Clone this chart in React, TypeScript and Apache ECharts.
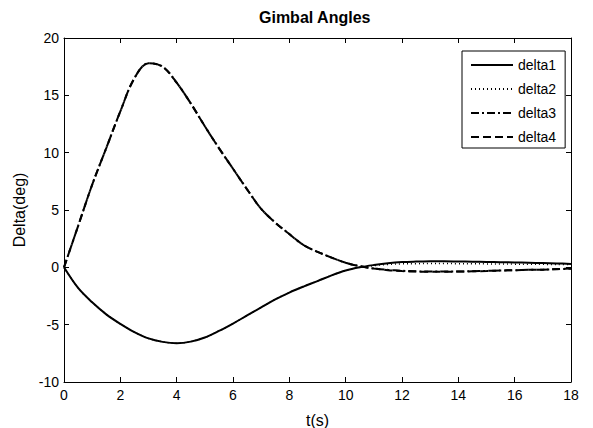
import React, { useEffect, useRef } from "react";
import * as echarts from "echarts";

const timeS = [0, 0.5, 1, 1.5, 2, 2.5, 3, 3.5, 4, 4.5, 5, 5.5, 6, 6.5, 7, 7.5, 8, 8.5, 9, 9.5, 10, 10.5, 11, 11.5, 12, 12.5, 13, 13.5, 14, 14.5, 15, 15.5, 16, 16.5, 17, 17.5, 18];

const delta1 = [0, -1.8, -3.05, -4.1, -4.93, -5.65, -6.2, -6.5, -6.62, -6.48, -6.12, -5.55, -4.9, -4.2, -3.5, -2.8, -2.2, -1.68, -1.2, -0.7, -0.28, 0.0, 0.2, 0.36, 0.46, 0.5, 0.52, 0.53, 0.51, 0.49, 0.47, 0.45, 0.43, 0.4, 0.37, 0.34, 0.3];
const delta2 = [0, -1.8, -3.05, -4.1, -4.93, -5.65, -6.2, -6.5, -6.62, -6.48, -6.12, -5.55, -4.9, -4.2, -3.5, -2.8, -2.2, -1.68, -1.2, -0.7, -0.28, 0.0, 0.15, 0.25, 0.3, 0.32, 0.33, 0.33, 0.32, 0.31, 0.3, 0.29, 0.28, 0.27, 0.26, 0.25, 0.24];
const delta3 = [0, 3.6, 7.2, 10.4, 13.6, 16.5, 17.8, 17.5, 16.1, 14.3, 12.3, 10.4, 8.6, 6.8, 5.1, 3.9, 2.9, 1.95, 1.35, 0.85, 0.4, 0.1, -0.1, -0.22, -0.3, -0.35, -0.37, -0.37, -0.36, -0.34, -0.31, -0.28, -0.25, -0.22, -0.2, -0.16, -0.12];
const delta4 = [0, 3.6, 7.2, 10.4, 13.6, 16.5, 17.8, 17.5, 16.1, 14.3, 12.3, 10.4, 8.6, 6.8, 5.1, 3.9, 2.9, 1.95, 1.35, 0.85, 0.4, 0.1, -0.1, -0.25, -0.33, -0.37, -0.38, -0.38, -0.37, -0.35, -0.32, -0.28, -0.25, -0.22, -0.2, -0.15, -0.1];

const seriesNames = ["delta1", "delta2", "delta3", "delta4"];
const seriesValues = [delta1, delta2, delta3, delta4];
const lineTypes: any[] = ["solid", [1, 3], [8, 3, 2, 3], [8, 4]];
const lineWidths = [2, 1.5, 2, 2];

const FONT = "Liberation Sans, Arial, sans-serif";

export default function App() {
  const ref = useRef<HTMLDivElement>(null);
  useEffect(() => {
    if (!ref.current) return;
    const chart = echarts.init(ref.current, undefined, { renderer: "svg" });
    const axisCommon = {
      type: "value" as const,
      axisLine: { show: true, onZero: false, lineStyle: { color: "#000", width: 1 } },
      axisTick: { show: true, inside: true, length: 5, lineStyle: { color: "#000" } },
      splitLine: { show: false },
    };
    chart.setOption({
      animation: false,
      backgroundColor: "#fff",
      title: {
        text: "Gimbal Angles",
        left: 259,
        top: 9,
        padding: 0,
        textStyle: { fontFamily: FONT, fontSize: 16, fontWeight: "bold", color: "#000" },
      },
      legend: {
        orient: "vertical",
        left: 462,
        top: 51,
        padding: [7, 9, 4, 8],
        itemGap: 10,
        itemWidth: 42,
        itemHeight: 14,
        borderColor: "#000",
        borderWidth: 1,
        borderRadius: 0,
        backgroundColor: "#fff",
        itemStyle: { color: "transparent", borderColor: "transparent", borderWidth: 0, opacity: 0 },
        textStyle: { fontFamily: FONT, fontSize: 14, color: "#000" },
        data: seriesNames,
      },
      grid: { left: 64, right: 22, top: 38, bottom: 46, containLabel: false, outerBoundsMode: "none" },
      xAxis: [
        {
          ...axisCommon,
          position: "bottom",
          min: 0,
          max: 18,
          interval: 2,
          name: "t(s)",
          nameLocation: "middle",
          nameGap: 30,
          nameTextStyle: { fontFamily: FONT, fontSize: 16, color: "#000" },
          axisLabel: { fontFamily: FONT, fontSize: 14, color: "#000", margin: 6 },
        },
        {
          ...axisCommon,
          position: "top",
          min: 0,
          max: 18,
          interval: 2,
          axisLabel: { show: false },
        },
      ],
      yAxis: [
        {
          ...axisCommon,
          position: "left",
          min: -10,
          max: 20,
          interval: 5,
          name: "Delta(deg)",
          nameLocation: "middle",
          nameGap: 31,
          nameTextStyle: { fontFamily: FONT, fontSize: 16, color: "#000" },
          axisLabel: { fontFamily: FONT, fontSize: 14, color: "#000", margin: 5 },
        },
        {
          ...axisCommon,
          position: "right",
          min: -10,
          max: 20,
          interval: 5,
          axisLabel: { show: false },
        },
      ],
      series: seriesNames.map((name, i) => ({
        name,
        type: "line",
        xAxisIndex: 0,
        yAxisIndex: 0,
        data: timeS.map((t, j) => [t, seriesValues[i][j]]),
        showSymbol: false,
        symbol: "none",
        smooth: 0.35,
        color: "#000",
        lineStyle: { color: "#000", width: lineWidths[i], type: lineTypes[i] },
      })),
    });
    return () => chart.dispose();
  }, []);
  return (
    <div
      ref={ref}
      style={{ position: "fixed", left: 0, top: 0, width: 593, height: 428, background: "#fff" }}
    />
  );
}
